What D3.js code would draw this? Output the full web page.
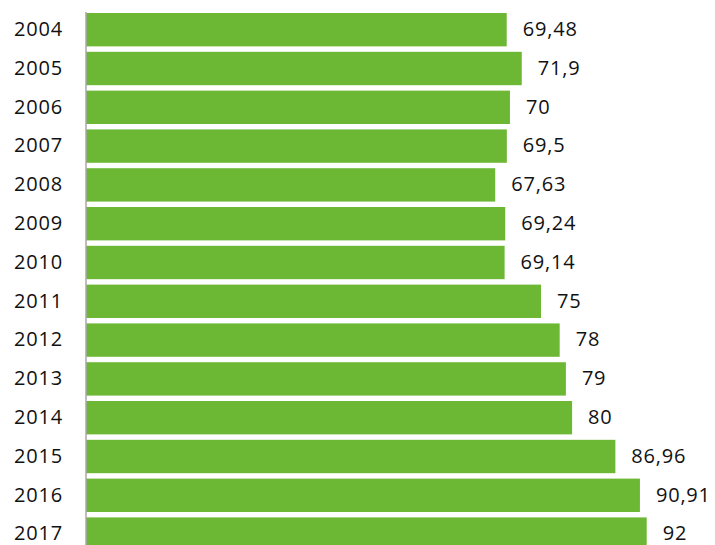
<!DOCTYPE html>
<html><head><meta charset="utf-8">
<script src="https://cdn.jsdelivr.net/npm/d3@7"></script>
<style>body{margin:0;background:#fff}svg{display:block}</style>
</head><body>
<svg id="c" width="715" height="545"></svg>
<script>
const years = ["2004","2005","2006","2007","2008","2009","2010","2011","2012","2013","2014","2015","2016","2017"];
const values = [69.48, 71.9, 70, 69.5, 67.63, 69.24, 69.14, 75, 78, 79, 80, 86.96, 90.91, 92];
const valueLabels = ["69,48","71,9","70","69,5","67,63","69,24","69,14","75","78","79","80","86,96","90,91","92"];

const svg = d3.select("#c");
const x = d3.scaleLinear().domain([1.8, 92]).range([86, 646.7]);
const y = d3.scaleBand().domain(years).range([10.3, 553.5]).paddingInner(0.14).paddingOuter(0.07);
const font = "'Open Sans', Lato, sans-serif";

svg.selectAll("rect.bar").data(values).join("rect")
  .attr("class","bar")
  .attr("x", x(1.8))
  .attr("y", (d,i)=>y(years[i]))
  .attr("width", d=>x(d)-x(1.8))
  .attr("height", y.bandwidth())
  .attr("fill", "#6cb733");

svg.append("line")
  .attr("x1", x(1.8)).attr("x2", x(1.8))
  .attr("y1", 12).attr("y2", 545)
  .attr("stroke", "#a8a8a8").attr("stroke-width", 1.5);

svg.selectAll("text.yr").data(years).join("text")
  .attr("class","yr")
  .attr("x", 63)
  .attr("y", d=>y(d)+y.bandwidth()/2+1)
  .attr("text-anchor","end")
  .attr("dominant-baseline","middle")
  .attr("font-family", font).attr("font-size", 20)
  .attr("letter-spacing", 0.8)
  .attr("fill","#111")
  .text(d=>d);

svg.selectAll("text.val").data(values).join("text")
  .attr("class","val")
  .attr("x", d=>x(d)+16)
  .attr("y", (d,i)=>y(years[i])+y.bandwidth()/2+1)
  .attr("dominant-baseline","middle")
  .attr("font-family", font).attr("font-size", 20)
  .attr("letter-spacing", 0.8)
  .attr("fill","#111")
  .text((d,i)=>valueLabels[i]);
</script>
</body></html>
